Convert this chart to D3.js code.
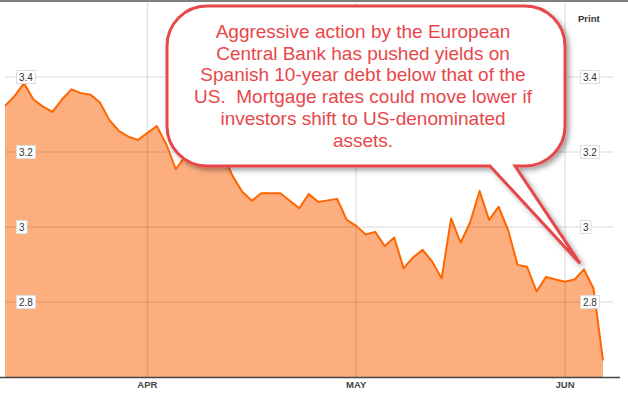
<!DOCTYPE html>
<html>
<head>
<meta charset="utf-8">
<script src="https://cdn.jsdelivr.net/npm/d3@7"></script>
<style>
  body { margin: 0; background: #fff; }
  svg { display: block; font-family: "Liberation Sans", Arial, sans-serif; }
</style>
</head>
<body>
<svg id="chart" width="628" height="396"></svg>
<script>
'use strict';

// trading days, Mar 11 - Jun 6 2014
const dates = [
    "2014-03-11","2014-03-12","2014-03-13","2014-03-14","2014-03-17","2014-03-18","2014-03-19","2014-03-20",
    "2014-03-21","2014-03-24","2014-03-25","2014-03-26","2014-03-27","2014-03-28","2014-03-31",
    "2014-04-01","2014-04-02","2014-04-03","2014-04-04","2014-04-07","2014-04-08","2014-04-09","2014-04-10",
    "2014-04-11","2014-04-14","2014-04-15","2014-04-16","2014-04-17","2014-04-18","2014-04-21","2014-04-22",
    "2014-04-23","2014-04-24","2014-04-25","2014-04-28","2014-04-29","2014-04-30",
    "2014-05-01","2014-05-02","2014-05-05","2014-05-06","2014-05-07","2014-05-08","2014-05-09","2014-05-12",
    "2014-05-13","2014-05-14","2014-05-15","2014-05-16","2014-05-19","2014-05-20","2014-05-21","2014-05-22",
    "2014-05-23","2014-05-26","2014-05-27","2014-05-28","2014-05-29","2014-05-30",
    "2014-06-02","2014-06-03","2014-06-04","2014-06-05","2014-06-06"
]

// Spanish 10-year yield (%)
const yields = [
    3.323, 3.349, 3.383, 3.340, 3.321, 3.307, 3.340, 3.367,
    3.357, 3.353, 3.332, 3.285, 3.256, 3.241, 3.232,
    3.251, 3.269, 3.220, 3.154, 3.190, 3.220, 3.200, 3.210,
    3.190, 3.135, 3.094, 3.070, 3.090, 3.090, 3.090, 3.070,
    3.050, 3.088, 3.067, 3.071, 3.075, 3.019,
    3.003, 2.980, 2.987, 2.949, 2.972, 2.890, 2.919, 2.939,
    2.908, 2.863, 3.023, 2.958, 3.012, 3.096, 3.019, 3.054,
    2.992, 2.899, 2.894, 2.828, 2.867, 2.860,
    2.854, 2.860, 2.887, 2.836, 2.644
]

const monthTicks = ["2014-04-01", "2014-05-01", "2014-06-02"]
const monthLabels = ["APR", "MAY", "JUN"]
const yTicks = [2.8, 3, 3.2, 3.4]

const noteLines = [
    "Aggressive action by the European",
    "Central Bank has pushed yields on",
    "Spanish 10-year debt below that of the",
    "US.  Mortgage rates could move lower if",
    "investors shift to US-denominated",
    "assets."
]

let svg = d3.select("#chart")
let width = +svg.attr("width")

let x = d3.scalePoint().domain(dates).range([5, 603])
let y = d3.scaleLinear().domain([2.6, 3.6]).range([377, 2])

let data = dates.map((d, i) => ({ date: d, value: yields[i] }))

// area + line
let area = d3.area()
    .x(d => x(d.date))
    .y0(y(2.6))
    .y1(d => y(d.value))

let line = d3.line()
    .x(d => x(d.date))
    .y(d => y(d.value))

svg.append("path")
    .datum(data)
    .attr("fill", "#fdae7e")
    .attr("d", area)

// grid
let grid = svg.append("g").attr("stroke", "rgba(0,0,0,0.1)").attr("stroke-width", 1.5)

grid.selectAll("line.h")
    .data(yTicks)
    .enter().append("line")
    .attr("x1", 5).attr("x2", 613)
    .attr("y1", d => y(d)).attr("y2", d => y(d))

grid.selectAll("line.v")
    .data(monthTicks)
    .enter().append("line")
    .attr("x1", d => x(d)).attr("x2", d => x(d))
    .attr("y1", 2).attr("y2", 377)

svg.append("path")
    .datum(data)
    .attr("fill", "none")
    .attr("stroke", "#ff6600")
    .attr("stroke-width", 2)
    .attr("stroke-linejoin", "round")
    .attr("d", line)

// frame lines
svg.append("line")
    .attr("x1", 0).attr("x2", width).attr("y1", 1).attr("y2", 1)
    .attr("stroke", "#555").attr("stroke-width", 1.5)

svg.append("line")
    .attr("x1", 0).attr("x2", 620).attr("y1", 377.5).attr("y2", 377.5)
    .attr("stroke", "#444").attr("stroke-width", 1.5)

// month labels
svg.append("g")
    .selectAll("text")
    .data(monthTicks)
    .enter().append("text")
    .attr("x", d => x(d))
    .attr("y", 388)
    .attr("text-anchor", "middle")
    .attr("font-size", 9.5)
    .attr("font-weight", "bold")
    .attr("fill", "#444")
    .text((d, i) => monthLabels[i])

// boxed y labels, left and right
function yLabels(left) {
    let g = svg.append("g")
    yTicks.forEach(t => {
        let lab = g.append("g")
        let txt = lab.append("text")
            .attr("x", left + 3)
            .attr("y", y(t) + 3.5)
            .attr("font-size", 10)
            .attr("fill", "#333")
            .text(d3.format("")(t))
        let w = txt.node().getComputedTextLength()
        lab.insert("rect", "text")
            .attr("x", left + 0.5)
            .attr("y", y(t) - 6.5)
            .attr("width", w + 5)
            .attr("height", 13)
            .attr("fill", "#fff")
            .attr("stroke", "#ddd")
    })
}
yLabels(16)
yLabels(580)

svg.append("text")
    .attr("x", 578).attr("y", 22)
    .attr("font-size", 9.5)
    .attr("font-weight", "bold")
    .attr("fill", "#333")
    .text("Print")

// callout
let defs = svg.append("defs")
defs.append("filter")
    .attr("id", "shadow")
    .attr("x", "-10%").attr("y", "-10%").attr("width", "130%").attr("height", "140%")
    .append("feDropShadow")
    .attr("dx", 3).attr("dy", 3).attr("stdDeviation", 2.5)
    .attr("flood-color", "#000").attr("flood-opacity", 0.35)

let L = 167, T = 6, R = 565, B = 166, r = 40
let tipX = x(dates[61]) - 4, tipY = y(yields[61]) - 6
let baseL = 490, baseR = 515

let p = d3.path()
p.moveTo(L + r, T)
p.lineTo(R - r, T)
p.arcTo(R, T, R, T + r, r)
p.lineTo(R, B - r)
p.arcTo(R, B, R - r, B, r)
p.lineTo(baseR, B)
p.lineTo(tipX, tipY)
p.lineTo(baseL, B)
p.lineTo(L + r, B)
p.arcTo(L, B, L, B - r, r)
p.lineTo(L, T + r)
p.arcTo(L, T, L + r, T, r)
p.closePath()

svg.append("path")
    .attr("d", p.toString())
    .attr("fill", "#fff")
    .attr("stroke", "#e8474a")
    .attr("stroke-width", 3)
    .attr("stroke-linejoin", "miter")
    .attr("filter", "url(#shadow)")

svg.append("g")
    .selectAll("text")
    .data(noteLines)
    .enter().append("text")
    .attr("x", 363)
    .attr("y", (d, i) => 38 + i * 21.7)
    .attr("text-anchor", "middle")
    .attr("font-size", 19)
    .attr("fill", "#e8474a")
    .style("white-space", "pre")
    .text(d => d)
</script>
</body>
</html>
